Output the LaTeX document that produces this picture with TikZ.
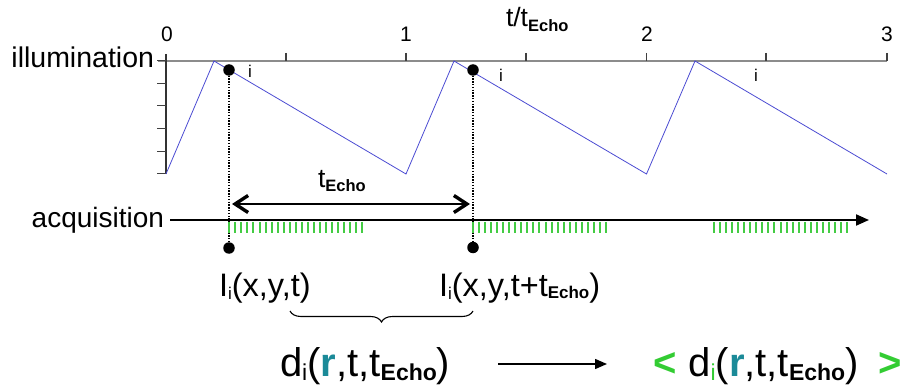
\documentclass[tikz,border=0pt]{standalone}
\usepackage{fontspec}
\setmainfont{Liberation Sans}
\usetikzlibrary{arrows.meta,decorations.pathreplacing}
\definecolor{curveblue}{HTML}{4B4BD2}
\definecolor{axisgray}{HTML}{8C8C8C}
\definecolor{tickgreen}{HTML}{44CC44}
\definecolor{txtgreen}{HTML}{33CC33}
\definecolor{rteal}{HTML}{1B8A98}
\newcommand{\fsz}[1]{\fontsize{#1}{#1}\selectfont}
\newcommand{\subx}[3]{\raisebox{-#1}{\fsz{#2}#3}}
\begin{document}
\begin{tikzpicture}[x=1pt,y=-1pt,
  lbl/.style={inner sep=0pt,outer sep=0pt},
  dotnode/.style={circle,fill=black,inner sep=0pt,minimum size=11.5pt},
  guide/.style={line width=1.2pt,dash pattern=on 1.4pt off 1.4pt},
  gtick/.style={tickgreen,line width=2pt},
  axtick/.style={black!75,line width=1.1pt},
  barb/.style={line width=2.4pt,{Straight Barb[length=13pt,width=17pt,line width=3.4pt]}-{Straight Barb[length=13pt,width=17pt,line width=3.4pt]}},
  ]
\useasboundingbox (0,0) rectangle (903,385);
% axes
\draw[axisgray,line width=2pt] (158,60.7) -- (887,60.7);
\foreach \x in {286,406,526,646.5,766,887} \draw[axtick] (\x,53) -- (\x,60.7);
\draw[black!80,line width=1.2pt] (166,54) -- (166,174);
\foreach \k in {0,...,5} \draw[axtick] (157,{60.7+22.6*\k}) -- (166,{60.7+22.6*\k});
% axis labels
\node[lbl,anchor=base] (n0) at (167,42) {\fsz{21}0};
\node[lbl,anchor=base] (n1) at (406,42) {\fsz{21}1};
\node[lbl,anchor=base] (n2) at (647,42) {\fsz{21}2};
\node[lbl,anchor=base] (n3) at (887,42) {\fsz{21}3};
\node[lbl,anchor=base west] (tt) at (506,27) {\fsz{26.5}t/t\subx{5pt}{16.5}{\bfseries Echo}};
\node[lbl,anchor=base east] (illum) at (154,68) {\fsz{28.5}illumination};
% curve
\draw[curveblue,line width=0.8pt] (166,174) -- (214,61) -- (406,174) -- (454,61) -- (646.5,174) -- (695,61) -- (887,174);
% i labels
\node[lbl,anchor=base] (i1) at (250,78) {\fsz{17}i};
\node[lbl,anchor=base] (i2) at (501,82) {\fsz{17}i};
\node[lbl,anchor=base] (i3) at (756,82) {\fsz{17}i};
% dots and guides
\node[dotnode] (p1) at (229,70) {};
\node[dotnode] (p2) at (473,70) {};
\node[dotnode] (q1) at (229,248) {};
\node[dotnode] (q2) at (473,247.5) {};
\draw[guide] (p1.center) -- (q1.center);
\draw[guide] (p2.center) -- (q2.center);
% t_Echo arrow
\coordinate (a1) at (229,204);
\coordinate (a2) at (473,204);
\draw[barb,shorten <=3pt,shorten >=3pt] (a1) -- (a2);
\node[lbl,anchor=base west] (techo) at (318,188) {\fsz{26.5}t\subx{4pt}{16.5}{\bfseries Echo}};
% acquisition
\node[lbl,anchor=base east] (acq) at (164,227) {\fsz{28}acquisition};
\coordinate (acqs) at (170,220);
\coordinate (acqe) at (869,220);
\draw[line width=2pt,-{Triangle[length=13pt,width=11pt]}] (acqs) -- (acqe);
\foreach \s in {229.3,473,714} \foreach \k in {0,...,22} \draw[gtick] ({\s+6.045*\k},221.8) -- ++(0,10.8);
% bottom labels
\node[lbl,anchor=base west] (I1) at (219,296.5) {\fsz{32.5}I\subx{2.5pt}{17}{i}(x,y,t)};
\node[lbl,anchor=base west] (I2) at (439,296.5) {\fsz{32.5}I\subx{2.5pt}{17}{i}(x,y,t+t\subx{2pt}{17}{\bfseries Echo})};
\coordinate (bl) at (290,311);
\coordinate (br) at (473,311);
\draw[line width=1.1pt,decorate,decoration={brace,amplitude=11pt}] (br) -- (bl);
\node[lbl,anchor=base west] (d1) at (280,376) {\fsz{40}d\subx{4.5pt}{23}{i}({\color{rteal}\bfseries r},t,t\subx{4.5pt}{23}{\bfseries Echo})};
\node[lbl,anchor=base west] (d2) at (653,376) {\fsz{40}{\color{txtgreen}\bfseries<}\hspace{12pt}d\subx{4.5pt}{23}{\color{txtgreen}i}({\color{rteal}\bfseries r},t,t\subx{4.5pt}{23}{\bfseries Echo})\hspace{20pt}{\color{txtgreen}\bfseries>}};
\coordinate (bs) at (498,364);
\coordinate (be) at (607,364);
\draw[line width=1.5pt,-{Triangle[length=12pt,width=10pt]}] (bs) -- (be);
\end{tikzpicture}
\end{document}
